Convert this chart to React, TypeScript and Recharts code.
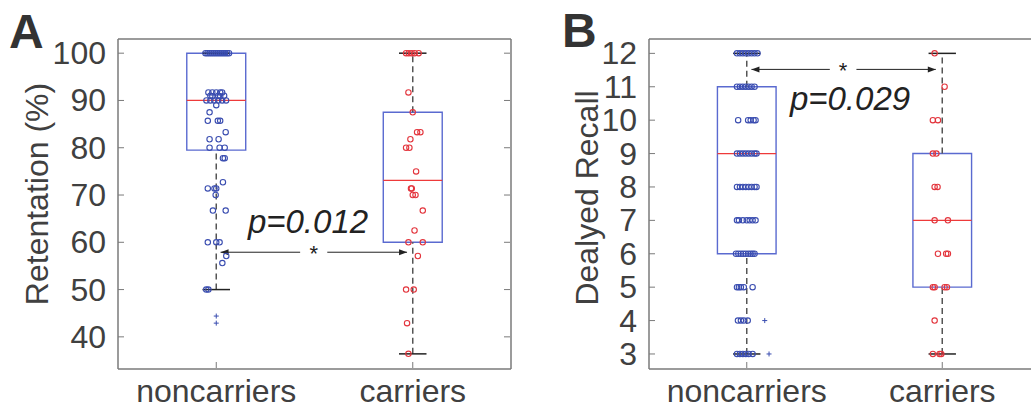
import { ComposedChart, Scatter, XAxis, YAxis, ReferenceArea, ReferenceLine, ReferenceDot } from 'recharts';

const groups = ['noncarriers', 'carriers'];
const groupPos = [1, 2];

// A: retentation (%), one entry per subject; jitter = horizontal offset in group units
const retNonVals = [
  100, 100, 100, 100, 100, 100, 100, 100, 100, 100, 100, 100, 100,
  91.7, 91.7, 91.7, 91.7, 91.7, 91, 91, 91, 90.9, 90.9,
  90, 90, 90, 90, 90, 90, 89, 87.5, 85.7, 85.7, 85.7, 83.3,
  81.8, 81.8, 80, 80, 80, 77.8, 77.8, 72.7, 71.4, 71.4, 71.4, 70,
  66.7, 66.7, 60, 60, 60, 57.1, 55.6, 50, 50,
];
const retNonJit = [
  -0.055, -0.045, -0.035, -0.025, -0.015, -0.005, 0.005, 0.015, 0.025, 0.035, 0.045, 0.055, 0.065,
  -0.04, -0.02, 0, 0.02, 0.03, -0.03, 0.01, 0.04, -0.02, 0.02,
  -0.05, -0.03, -0.01, 0.01, 0.03, 0.05, 0, -0.034, -0.043, 0.008, 0.02, 0.048,
  -0.034, 0.012, -0.034, 0.017, 0.043, 0.034, 0.043, 0.034, -0.043, -0.009, 0, -0.003,
  -0.017, 0.048, -0.043, 0, 0.017, 0.051, 0.031, -0.051, -0.04,
];
const retNonOutVals = [44.4, 42.9];
const retNonOutJit = [0, 0];

const retCarVals = [
  100, 100, 100, 100, 100, 91.7, 87.5, 83.3, 83.3, 81.8, 80, 80, 75,
  71.4, 71.4, 70, 70, 66.7, 62.5, 60, 60, 57.1, 50, 50, 42.9, 36.4,
];
const retCarJit = [
  -0.034, -0.02, -0.005, 0.01, 0.03, -0.022, 0, 0.022, 0.039, -0.012, -0.034, -0.017, 0.017,
  -0.009, -0.005, 0, 0.014, 0.051, 0.009, -0.022, 0.051, 0.026, -0.034, 0.005, -0.029, -0.022,
];

// box stats: low whisker, q1, median, q3, high whisker
const retNonBox = [50, 79.5, 90, 100, 100];
const retCarBox = [36.4, 60, 73.1, 87.5, 100];
const retTicks = [40, 50, 60, 70, 80, 90, 100];
const retSigY = 57.9;

// B: delayed recall
const recNonVals = [
  12, 12, 12, 12, 12, 12, 12, 12,
  11, 11, 11, 11, 11, 11, 11,
  10, 10, 10, 10, 10,
  9, 9, 9, 9, 9, 9, 9, 9,
  8, 8, 8, 8, 8, 8, 8, 8,
  7, 7, 7, 7, 7, 7, 7,
  6, 6, 6, 6, 6, 6, 6, 6, 6,
  5, 5, 5, 5, 5,
  4, 4, 4, 4,
  3, 3, 3, 3, 3, 3,
];
const recNonJit = [
  -0.05, -0.035, -0.02, -0.005, 0.01, 0.025, 0.04, 0.055,
  -0.05, -0.035, -0.02, -0.005, 0.01, 0.025, 0.04,
  -0.044, 0.007, 0.02, 0.035, 0.045,
  -0.05, -0.035, -0.02, -0.005, 0.01, 0.025, 0.04, 0.05,
  -0.05, -0.035, -0.02, -0.005, 0.01, 0.025, 0.04, 0.05,
  -0.05, -0.04, -0.02, 0, 0.015, 0.03, 0.045,
  -0.055, -0.043, -0.03, -0.018, -0.005, 0.008, 0.02, 0.03, 0.04,
  -0.05, -0.04, -0.03, -0.015, 0.03,
  -0.045, -0.03, -0.015, 0.005,
  -0.05, -0.035, -0.02, -0.005, 0.01, 0.03,
];
const recNonOutVals = [4, 3];
const recNonOutJit = [0.092, 0.114];

const recCarVals = [12, 11, 10, 10, 9, 9, 8, 8, 7, 7, 6, 6, 6, 5, 5, 5, 5, 4, 3, 3, 3];
const recCarJit = [
  -0.039, 0.012, -0.048, -0.022, -0.048, -0.03, -0.039, -0.024, -0.039, 0.029,
  -0.022, 0.02, 0.029, -0.048, -0.039, 0.012, 0.024, -0.039, -0.048, -0.014, -0.005,
];

const recNonBox = [3, 6, 9, 11, 12];
const recCarBox = [3, 5, 7, 9, 12];
const recTicks = [3, 4, 5, 6, 7, 8, 9, 10, 11, 12];
const recSigY = 11.52;

const FONT = '"Liberation Sans", Arial, Helvetica, sans-serif';
const TEXT = '#404040';
const FRAME = '#7a7a7a';
const BLUE = '#3a4db0';
const RED = '#e3343c';
const BOX = '#5a6ad0';
const MED = '#ee3a3a';

const toPts = (vals: number[], jit: number[], g: number) =>
  vals.map((v, i) => ({ x: groupPos[g] + jit[i], y: v }));

const ring = (color: string) => (p: any) => (
  <circle cx={p.cx} cy={p.cy} r={2.7} fill="none" stroke={color} strokeWidth={1.1} />
);
const cross = (color: string) => (p: any) => (
  <g stroke={color} strokeWidth={1}>
    <line x1={p.cx - 2.5} x2={p.cx + 2.5} y1={p.cy} y2={p.cy} />
    <line x1={p.cx} x2={p.cx} y1={p.cy - 2.5} y2={p.cy + 2.5} />
  </g>
);

const arrow = (head: 'start' | 'end') => (p: any) => {
  const { x1, y1, x2, y2 } = p;
  const tx = head === 'start' ? x1 : x2;
  const d = head === 'start' ? 8 : -8;
  return (
    <g>
      <line x1={x1} y1={y1} x2={x2} y2={y2} stroke="#222" strokeWidth={1} />
      <polygon points={`${tx},${y1} ${tx + d},${y1 - 3} ${tx + d},${y1 + 3}`} fill="#222" />
    </g>
  );
};

// inward tick marks drawn by hand so the labels stay outside the frame
const leftTick = (p: any) => (
  <g>
    <line x1={p.x + 12} x2={p.x + 18} y1={p.y} y2={p.y} stroke={FRAME} strokeWidth={1} />
    <text x={p.x} y={p.y} dy={11} textAnchor="end" fontSize={32} fill={TEXT} fontFamily={FONT}>
      {p.payload.value}
    </text>
  </g>
);
const rightTick = (p: any) => (
  <line x1={p.x - 1} x2={p.x - 7} y1={p.y} y2={p.y} stroke={FRAME} strokeWidth={1} />
);
const bottomTick = (p: any) => (
  <g>
    <line x1={p.x} x2={p.x} y1={p.y - 1} y2={p.y - 7} stroke={FRAME} strokeWidth={1} />
    <text x={p.x} y={p.y + 33} textAnchor="middle" fontSize={32} fill={TEXT} fontFamily={FONT}>
      {groups[groupPos.indexOf(p.payload.value)]}
    </text>
  </g>
);
const topTick = (p: any) => (
  <line x1={p.x} x2={p.x} y1={p.y + 1} y2={p.y + 7} stroke={FRAME} strokeWidth={1} />
);

type PanelProps = {
  width: number;
  margin: { top: number; right: number; bottom: number; left: number };
  yDomain: [number, number];
  yTicks: number[];
  boxes: number[][];
  pts: { x: number; y: number }[][];
  outs: { x: number; y: number }[];
  sigY: number;
  sigX: number[];
};

function BoxPanel({ width, margin, yDomain, yTicks, boxes, pts, outs, sigY, sigX }: PanelProps) {
  const axisLine = { stroke: FRAME, strokeWidth: 1.5 };
  const els: any[] = [];
  boxes.forEach((b, i) => {
    const c = groupPos[i];
    els.push(
      <ReferenceLine key={`wl${i}`} segment={[{ x: c, y: b[0] }, { x: c, y: b[1] }]} stroke="#555" strokeWidth={1.5} strokeDasharray="6 4" />,
      <ReferenceLine key={`wh${i}`} segment={[{ x: c, y: b[3] }, { x: c, y: b[4] }]} stroke="#555" strokeWidth={1.5} strokeDasharray="6 4" />,
      <ReferenceLine key={`cl${i}`} segment={[{ x: c - 0.07, y: b[0] }, { x: c + 0.07, y: b[0] }]} stroke="#222" strokeWidth={1.5} />,
      <ReferenceLine key={`ch${i}`} segment={[{ x: c - 0.07, y: b[4] }, { x: c + 0.07, y: b[4] }]} stroke="#222" strokeWidth={1.5} />,
      <ReferenceArea key={`b${i}`} x1={c - 0.15} x2={c + 0.15} y1={b[1]} y2={b[3]} fill="none" fillOpacity={0} stroke={BOX} strokeWidth={1.4} />,
      <ReferenceLine key={`m${i}`} segment={[{ x: c - 0.15, y: b[2] }, { x: c + 0.15, y: b[2] }]} stroke={MED} strokeWidth={1.2} />,
    );
  });
  return (
    <ComposedChart width={width} height={406} margin={margin}>
      <XAxis
        xAxisId={0}
        type="number"
        dataKey="x"
        domain={[0.5, 2.5]}
        allowDataOverflow
        ticks={groupPos}
        height={20}
        tickSize={0}
        tickMargin={0}
        axisLine={axisLine}
        tickLine={false}
        tick={bottomTick}
        interval={0}
      />
      <XAxis
        xAxisId="top"
        orientation="top"
        type="number"
        domain={[0.5, 2.5]}
        allowDataOverflow
        ticks={groupPos}
        height={20}
        tickSize={0}
        tickMargin={0}
        axisLine={axisLine}
        tickLine={false}
        tick={topTick}
      />
      <YAxis
        yAxisId={0}
        type="number"
        dataKey="y"
        domain={yDomain}
        allowDataOverflow
        ticks={yTicks}
        width={40}
        tickSize={0}
        tickMargin={12}
        axisLine={axisLine}
        tickLine={false}
        tick={leftTick}
        interval={0}
      />
      <YAxis
        yAxisId="right"
        orientation="right"
        type="number"
        domain={yDomain}
        allowDataOverflow
        ticks={yTicks}
        width={5}
        tickSize={0}
        tickMargin={0}
        axisLine={axisLine}
        tickLine={false}
        tick={rightTick}
        interval={0}
      />
      {els}
      <ReferenceLine segment={[{ x: sigX[0], y: sigY }, { x: sigX[1], y: sigY }]} shape={arrow('start')} />
      <ReferenceLine segment={[{ x: sigX[2], y: sigY }, { x: sigX[3], y: sigY }]} shape={arrow('end')} />
      <ReferenceDot
        x={(sigX[1] + sigX[2]) / 2}
        y={sigY}
        r={0}
        shape={(p: any) => (
          <text x={p.cx} y={p.cy + 9} textAnchor="middle" fontSize={22} fontFamily={FONT} fill="#222">*</text>
        )}
      />
      <Scatter data={pts[0]} dataKey="y" shape={ring(BLUE)} isAnimationActive={false} />
      <Scatter data={pts[1]} dataKey="y" shape={ring(RED)} isAnimationActive={false} />
      <Scatter data={outs} dataKey="y" shape={cross(BLUE)} isAnimationActive={false} />
    </ComposedChart>
  );
}

export default function App() {
  const retPts = [toPts(retNonVals, retNonJit, 0), toPts(retCarVals, retCarJit, 1)];
  const retOuts = toPts(retNonOutVals, retNonOutJit, 0);
  const recPts = [toPts(recNonVals, recNonJit, 0), toPts(recCarVals, recCarJit, 1)];
  const recOuts = toPts(recNonOutVals, recNonOutJit, 0);
  return (
    <div style={{ position: 'fixed', left: 0, top: 0, width: 1031, height: 406, overflow: 'hidden', background: '#fff' }}>
      <div style={{ position: 'absolute', left: 0, top: 0 }}>
        <BoxPanel
          width={520}
          margin={{ top: 19, right: 4, bottom: 17, left: 78 }}
          yDomain={[33.2, 103]}
          yTicks={retTicks}
          boxes={[retNonBox, retCarBox]}
          pts={retPts}
          outs={retOuts}
          sigY={retSigY}
          sigX={[1.022, 1.427, 1.565, 1.971]}
        />
      </div>
      <div style={{ position: 'absolute', left: 520, top: 0 }}>
        <BoxPanel
          width={530}
          margin={{ top: 19, right: 5, bottom: 17, left: 89 }}
          yDomain={[2.55, 12.43]}
          yTicks={recTicks}
          boxes={[recNonBox, recCarBox]}
          pts={recPts}
          outs={recOuts}
          sigY={recSigY}
          sigX={[1.024, 1.425, 1.561, 1.967]}
        />
      </div>
      <svg width={1031} height={406} style={{ position: 'absolute', left: 0, top: 0, pointerEvents: 'none' }}>
        <g fontFamily={FONT} fill={TEXT}>
          <text x={9} y={48} fontSize={48} fontWeight="bold" fill="#333">A</text>
          <text x={562} y={47} fontSize={48} fontWeight="bold" fill="#333">B</text>
          <text x={48} y={194} fontSize={32} textAnchor="middle" transform="rotate(-90 48 194)">Retentation (%)</text>
          <text x={598} y={198} fontSize={32} textAnchor="middle" transform="rotate(-90 598 198)">Dealyed Recall</text>
          <text x={308} y={233} fontSize={33} fontStyle="italic" textAnchor="middle" fill="#222">p=0.012</text>
          <text x={850} y={110} fontSize={33} fontStyle="italic" textAnchor="middle" fill="#222">p=0.029</text>
        </g>
      </svg>
    </div>
  );
}
